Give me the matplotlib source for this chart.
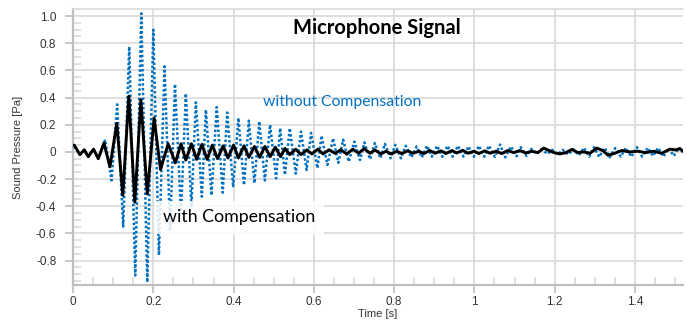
import matplotlib
matplotlib.use("Agg")
import matplotlib.pyplot as plt
import numpy as np

# Microphone signal (time in s, sound pressure in Pa)
# blue dotted trace: without compensation (extrema of the oscillation)
t_without = [0.0025, 0.017, 0.028, 0.038, 0.051, 0.063, 0.080, 0.096, 0.110, 0.125,
             0.140, 0.155, 0.170, 0.185, 0.200, 0.214, 0.228, 0.242, 0.254, 0.269,
             0.281, 0.295, 0.306, 0.321, 0.331, 0.345, 0.358, 0.373, 0.384, 0.399,
             0.412, 0.426, 0.438, 0.452, 0.464, 0.478, 0.491, 0.506, 0.516, 0.528,
             0.540, 0.555, 0.568, 0.582, 0.593, 0.609, 0.619, 0.634, 0.648, 0.661,
             0.673, 0.687, 0.701, 0.715, 0.726, 0.740, 0.752, 0.766, 0.777, 0.791,
             0.803, 0.817, 0.829, 0.843, 0.856, 0.869, 0.882, 0.894, 0.907, 0.920,
             0.933, 0.946, 0.959, 0.973, 0.985, 0.999, 1.011, 1.025, 1.036, 1.051,
             1.064, 1.077, 1.091, 1.105, 1.116, 1.130, 1.142, 1.156, 1.168, 1.182,
             1.194, 1.208, 1.220, 1.234, 1.247, 1.260, 1.273, 1.286, 1.298, 1.311,
             1.325, 1.337, 1.351, 1.365, 1.377, 1.391, 1.405, 1.418, 1.432, 1.445,
             1.458, 1.471, 1.484, 1.497, 1.509, 1.519]
p_without = [0.04, -0.02, 0.015, -0.035, 0.02, -0.05, 0.09, -0.21, 0.35, -0.55,
             0.775, -0.91, 1.02, -0.96, 0.90, -0.76, 0.63, -0.58, 0.50, -0.46,
             0.43, -0.40, 0.365, -0.33, 0.31, -0.32, 0.33, -0.30, 0.29, -0.26,
             0.25, -0.245, 0.23, -0.23, 0.225, -0.21, 0.20, -0.195, 0.175, -0.17,
             0.175, -0.16, 0.15, -0.133, 0.14, -0.12, 0.12, -0.096, 0.10, -0.08,
             0.09, -0.072, 0.076, -0.06, 0.07, -0.054, 0.065, -0.047, 0.06, -0.047,
             0.052, -0.047, 0.045, -0.04, 0.04, -0.04, 0.045, -0.035, 0.045, -0.035,
             0.045, -0.035, 0.045, -0.035, 0.04, -0.035, 0.045, -0.035, 0.046, -0.037,
             0.054, -0.04, 0.04, -0.032, 0.034, -0.03, 0.022, -0.015, 0.02, -0.015,
             0.015, -0.02, 0.015, -0.02, 0.02, -0.025, 0.03, -0.035, 0.035, -0.037,
             0.03, -0.04, 0.028, -0.035, 0.03, -0.035, 0.035, -0.035, 0.03, -0.03,
             0.03, -0.035, 0.028, -0.03, 0.03, 0.0]

# black solid trace: with compensation
t_with = [0.003, 0.017, 0.028, 0.038, 0.051, 0.063, 0.077, 0.092, 0.109, 0.124,
          0.139, 0.154, 0.169, 0.185, 0.202, 0.218, 0.237, 0.255, 0.269, 0.281,
          0.295, 0.308, 0.321, 0.334, 0.347, 0.360, 0.374, 0.386, 0.400, 0.412,
          0.426, 0.438, 0.452, 0.465, 0.478, 0.491, 0.504, 0.517, 0.528, 0.540,
          0.555, 0.568, 0.583, 0.595, 0.610, 0.623, 0.638, 0.653, 0.667, 0.682,
          0.697, 0.712, 0.725, 0.740, 0.752, 0.767, 0.780, 0.792, 0.807, 0.819,
          0.834, 0.847, 0.862, 0.874, 0.889, 0.902, 0.917, 0.929, 0.944, 0.956,
          0.971, 0.984, 0.999, 1.011, 1.026, 1.039, 1.054, 1.068, 1.083, 1.098,
          1.113, 1.128, 1.143, 1.158, 1.173, 1.186, 1.198, 1.213, 1.228, 1.243,
          1.258, 1.273, 1.288, 1.305, 1.320, 1.333, 1.350, 1.367, 1.387, 1.407,
          1.427, 1.447, 1.467, 1.487, 1.502, 1.512, 1.519]
p_with = [0.05, -0.02, 0.015, -0.035, 0.02, -0.05, 0.065, -0.11, 0.21, -0.32,
          0.41, -0.37, 0.385, -0.31, 0.25, -0.13, 0.06, -0.08, 0.06, -0.06,
          0.06, -0.055, 0.055, -0.055, 0.05, -0.05, 0.045, -0.045, 0.05, -0.045,
          0.045, -0.04, 0.04, -0.04, 0.04, -0.035, 0.035, -0.035, 0.025, -0.02,
          0.02, -0.02, 0.015, -0.015, 0.02, -0.015, 0.015, -0.01, 0.015, -0.015,
          0.02, -0.01, 0.025, -0.01, 0.015, -0.015, 0.005, -0.015, 0.005, -0.012,
          0.008, -0.01, 0.005, -0.012, 0.01, -0.01, 0.008, -0.012, 0.01, -0.008,
          0.012, -0.01, 0.005, -0.012, 0.008, -0.01, 0.005, -0.012, 0.01, -0.005,
          0.01, -0.008, 0.005, -0.005, 0.028, 0.01, -0.005, -0.015, -0.005, 0.018,
          -0.005, 0.0, -0.01, 0.028, 0.01, -0.025, -0.01, 0.01, 0.0, 0.005,
          -0.005, 0.005, -0.01, 0.02, 0.015, 0.025, 0.005]

x_ticks = [0, 0.2, 0.4, 0.6, 0.8, 1, 1.2, 1.4]
x_labels = ["0", "0.2", "0.4", "0.6", "0.8", "1", "1.2", "1.4"]
y_ticks = [-0.8, -0.6, -0.4, -0.2, 0, 0.2, 0.4, 0.6, 0.8, 1.0]
y_labels = ["-0.8", "-0.6", "-0.4", "-0.2", "0", "0.2", "0.4", "0.6", "0.8", "1.0"]

plt.rcParams["font.family"] = ["Liberation Sans", "DejaVu Sans"]

fig = plt.figure(figsize=(6.87, 3.22), dpi=100)
ax = fig.add_axes([0.1063, 0.115, 0.888, 0.856])

grid_c = "#D9D9D9"
axis_c = "#BFBFBF"

ax.plot(t_without, p_without, color="#0070C0", lw=1.8, linestyle=(0, (1, 0.9)),
        solid_capstyle="butt", zorder=3)
ax.plot(t_with, p_with, color="black", lw=2.1, solid_joinstyle="round",
        solid_capstyle="round", zorder=4)

ax.set_xlim(0, 1.52)
ax.set_ylim(-0.98, 1.05)
ax.set_xticks(x_ticks)
ax.set_xticklabels(x_labels)
ax.set_yticks(y_ticks)
ax.set_yticklabels(y_labels)
ax.set_xticks(np.arange(0, 1.52, 0.05), minor=True)
ax.set_yticks(np.arange(-0.95, 1.05, 0.05), minor=True)

ax.grid(True, which="major", color=grid_c, lw=1.2, zorder=0)
ax.set_axisbelow(True)

for side in ["left", "bottom"]:
    ax.spines[side].set_color(axis_c)
    ax.spines[side].set_linewidth(1.6)
ax.spines["right"].set_visible(False)
ax.spines["top"].set_color(grid_c)
ax.spines["top"].set_linewidth(1.2)

ax.tick_params(which="major", direction="out", length=6, width=1.2, color=axis_c,
               labelsize=8.5, labelcolor="#333333")
ax.tick_params(axis="y", which="major", pad=6)
ax.tick_params(axis="x", which="major", pad=2)
ax.tick_params(which="minor", direction="in", length=6, width=1.2, color=grid_c)

ax.set_xlabel("Time [s]", fontsize=8, color="#333333", labelpad=1)
ax.set_ylabel("Sound Pressure [Pa]", fontsize=8, color="#333333", labelpad=9)

fig.text(377 / 687, 1 - 28 / 322, "Microphone Signal", ha="center", va="center",
         fontsize=14.5, fontweight="bold", family=["Lato", "DejaVu Sans"])
ax.text(0.670, 0.37, "without Compensation", ha="center", va="center",
        fontsize=11.3, color="#0070C0", family=["Lato", "DejaVu Sans"], zorder=6)
ax.text(0.413, -0.483, "with Compensation", ha="center", va="center",
        fontsize=12.8, color="black", family=["Lato", "DejaVu Sans"], zorder=6,
        bbox=dict(boxstyle="square,pad=0.5", fc="white", ec="none", alpha=0.85))

fig.savefig("out.png", dpi=100)
